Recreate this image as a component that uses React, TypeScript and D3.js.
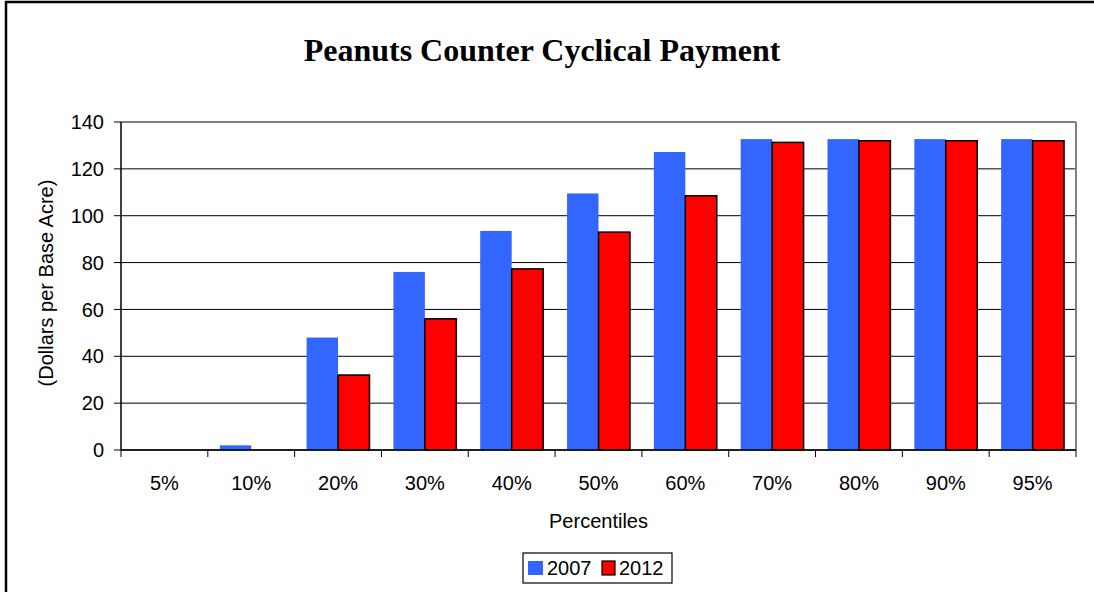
import { useMemo } from "react";
import * as d3 from "d3";

const categories = ["5%", "10%", "20%", "30%", "40%", "50%", "60%", "70%", "80%", "90%", "95%"];
const values2007 = [0, 2, 48, 76, 93.5, 109.5, 127.2, 132.7, 132.7, 132.7, 132.7];
const values2012 = [0, 0, 32, 56, 77.3, 93, 108.5, 131.3, 132, 132, 132];
const yTicks = [0, 20, 40, 60, 80, 100, 120, 140];

const WIDTH = 1094;
const HEIGHT = 592;
const margin = { top: 122, right: 18, bottom: 142, left: 121 };
const BLUE = "#3366FF";
const RED = "#FF0000";
const SANS = "'Liberation Sans', Arial, sans-serif";

export default function App() {
  const chartWidth = WIDTH - margin.left - margin.right;
  const chartHeight = HEIGHT - margin.top - margin.bottom;

  const x = useMemo(() => d3.scaleBand().domain(categories).range([0, chartWidth]).padding(0), [chartWidth]);
  const inner = useMemo(
    () => d3.scaleBand().domain(["2007", "2012"]).range([0, x.bandwidth()]).paddingInner(0).paddingOuter(0.38),
    [x],
  );
  const y = useMemo(() => d3.scaleLinear().domain([0, 140]).range([chartHeight, 0]), [chartHeight]);

  return (
    <svg
      width={WIDTH}
      height={HEIGHT}
      style={{ position: "absolute", left: 0, top: 0, background: "#fff" }}
    >
      <rect x={6} y={2} width={WIDTH} height={HEIGHT} fill="#fff" stroke="#000" strokeWidth={2.5} />
      <text
        x={542}
        y={61}
        textAnchor="middle"
        fontFamily="'Liberation Serif', 'Times New Roman', serif"
        fontWeight="bold"
        fontSize={32}
      >
        Peanuts Counter Cyclical Payment
      </text>

      <g transform={`translate(${margin.left},${margin.top})`}>
        {yTicks.map((t) => (
          <g key={t}>
            <line x1={0} x2={chartWidth} y1={y(t)} y2={y(t)} stroke={t === 140 ? "#808080" : "#000"} strokeWidth={t === 140 ? 2 : 1} />
            <line x1={-7} x2={0} y1={y(t)} y2={y(t)} stroke="#000" />
            <text x={-17} y={y(t)} dy="0.36em" textAnchor="end" fontFamily={SANS} fontSize={20}>
              {t}
            </text>
          </g>
        ))}
        <line x1={chartWidth} x2={chartWidth} y1={0} y2={chartHeight} stroke="#808080" strokeWidth={2} />

        {categories.map((c, i) => (
          <g key={c} transform={`translate(${x(c)},0)`}>
            <rect
              x={inner("2007")}
              y={y(values2007[i])}
              width={inner.bandwidth()}
              height={chartHeight - y(values2007[i])}
              fill={BLUE}
            />
            {values2012[i] > 0 ? (
              <rect
                x={inner("2012")}
                y={y(values2012[i])}
                width={inner.bandwidth()}
                height={chartHeight - y(values2012[i])}
                fill={RED}
                stroke="#000"
                strokeWidth={1.5}
              />
            ) : null}
            <text x={x.bandwidth() / 2} y={chartHeight + 40} textAnchor="middle" fontFamily={SANS} fontSize={20}>
              {c}
            </text>
          </g>
        ))}

        <line x1={0} x2={chartWidth} y1={chartHeight} y2={chartHeight} stroke="#000" strokeWidth={1.5} />
        <line x1={0} x2={0} y1={0} y2={chartHeight} stroke="#000" strokeWidth={1.5} />
        {categories.map((c, i) => (
          <line key={c} x1={x.step() * i} x2={x.step() * i} y1={chartHeight} y2={chartHeight + 7} stroke="#000" />
        ))}
        <line x1={chartWidth} x2={chartWidth} y1={chartHeight} y2={chartHeight + 7} stroke="#000" />

        <text x={chartWidth / 2} y={chartHeight + 78} textAnchor="middle" fontFamily={SANS} fontSize={20}>
          Percentiles
        </text>
        <text
          transform={`translate(${-68},${chartHeight / 2 - 3}) rotate(-90)`}
          textAnchor="middle"
          fontFamily={SANS}
          fontSize={20}
        >
          (Dollars per Base Acre)
        </text>
      </g>

      <g transform="translate(523,553)">
        <rect x={0} y={0} width={149} height={30} fill="#fff" stroke="#000" strokeWidth={1.2} />
        <rect x={5} y={8} width={15} height={14} fill={BLUE} />
        <text x={24} y={22} fontFamily={SANS} fontSize={20}>
          2007
        </text>
        <rect x={79} y={8} width={13} height={14} fill={RED} stroke="#000" strokeWidth={1.2} />
        <text x={96} y={22} fontFamily={SANS} fontSize={20}>
          2012
        </text>
      </g>
    </svg>
  );
}
